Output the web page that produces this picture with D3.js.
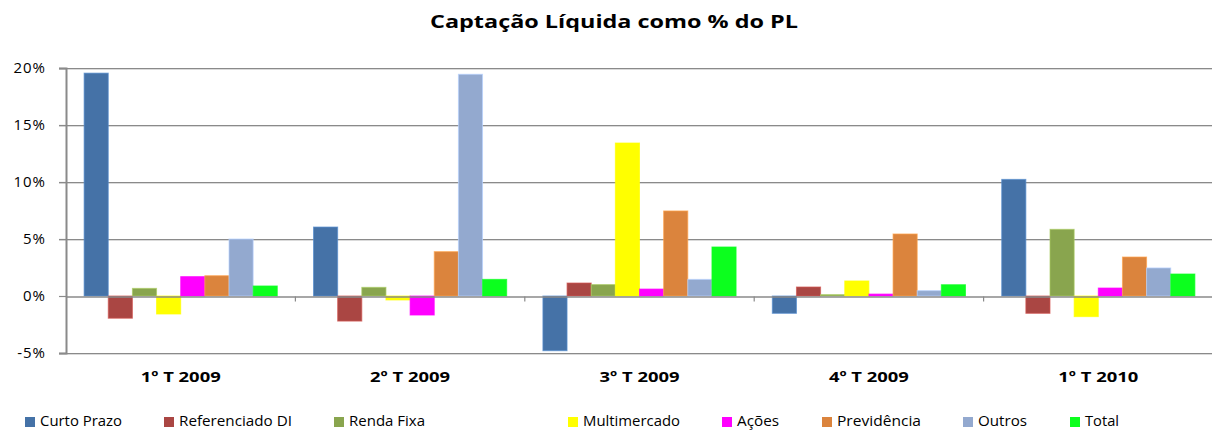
<!DOCTYPE html>
<html>
<head>
<meta charset="utf-8">
<script src="https://cdn.jsdelivr.net/npm/d3@7"></script>
<style>
  html, body { margin: 0; padding: 0; background: #fff; }
  svg { display: block; }
  text { font-family: "Open Sans", "DejaVu Sans", sans-serif; fill: #000; }
</style>
</head>
<body>
<svg id="chart" width="1212" height="430"></svg>
<script>
// ---- data ----
const title = "Captação Líquida como % do PL";
const categories = ["1º T 2009", "2º T 2009", "3º T 2009", "4º T 2009", "1º T 2010"];
const seriesNames = ["Curto Prazo", "Referenciado DI", "Renda Fixa", "Multimercado", "Ações", "Previdência", "Outros", "Total"];
const curtoPrazo     = [19.55, 6.05, -4.8, -1.52, 10.23];
const referenciadoDI = [-1.95, -2.2, 1.14, 0.79, -1.52];
const rendaFixa      = [0.67, 0.76, 1.0, 0.12, 5.85];
const multimercado   = [-1.58, -0.35, 13.42, 1.32, -1.81];
const acoes          = [1.7, -1.67, 0.61, 0.17, 0.7];
const previdencia    = [1.78, 3.89, 7.46, 5.44, 3.42];
const outros         = [5.0, 19.45, 1.46, 0.47, 2.46];
const total          = [0.88, 1.46, 4.3, 0.99, 1.93];
const yTicks = [-5, 0, 5, 10, 15, 20];
const seriesColors = ["#4572A7", "#AA4643", "#89A54E", "#FFFF00", "#FF00FF", "#DB843D", "#93A9CF", "#0CFF1E"];

const seriesValues = [curtoPrazo, referenciadoDI, rendaFixa, multimercado, acoes, previdencia, outros, total];

// ---- layout ----
const svg = d3.select("#chart");
const plot = { left: 66, right: 1213, top: 68, bottom: 353 };

const x0 = d3.scaleBand().domain(categories).range([plot.left, plot.right]).paddingInner(0).paddingOuter(0);
const y = d3.scaleLinear().domain([-5, 20]).range([plot.bottom, plot.top]);

// Excel gap width 150%: bar width = band / (8 + 1.5)
const barW = x0.bandwidth() / 9.5;
const groupOffset = barW * 0.75;

// gridlines (with light shadow)
const grid = svg.append("g");
yTicks.filter(t => t !== 0).forEach(t => {
  const yy = Math.round(y(t)) + 0.5;
  grid.append("line").attr("x1", plot.left - 7).attr("x2", plot.right).attr("y1", yy + 1).attr("y2", yy + 1)
    .attr("stroke", "#dadada").attr("stroke-width", 1);
  grid.append("line").attr("x1", plot.left - 7).attr("x2", plot.right).attr("y1", yy).attr("y2", yy)
    .attr("stroke", "#8a8a8a").attr("stroke-width", 1.2);
});

// y axis
const yAxis = d3.axisLeft(y).tickValues(yTicks).tickSize(7).tickFormat(d => d + "%");
const gy = svg.append("g").attr("transform", `translate(${plot.left},0)`).call(yAxis);
gy.select(".domain").attr("stroke", "#8a8a8a").attr("stroke-width", 2);
gy.selectAll(".tick line").attr("stroke", "#8a8a8a").attr("stroke-width", 1.2);
gy.selectAll(".tick text").attr("x", -20).attr("font-size", 15).attr("letter-spacing", 1)
  .attr("font-family", "'Open Sans', sans-serif").attr("fill", "#000");

// bars
const bars = svg.append("g");
categories.forEach((c, ci) => {
  seriesValues.forEach((vals, si) => {
    const v = vals[ci];
    const xx = x0(c) + groupOffset + si * barW;
    const y0 = y(0), yv = y(v);
    bars.append("rect")
      .attr("x", xx).attr("width", barW)
      .attr("y", Math.min(y0, yv)).attr("height", Math.abs(yv - y0))
      .attr("fill", seriesColors[si])
      .attr("stroke", d3.color(seriesColors[si]).brighter(0.6).copy({opacity: 0.7}))
      .attr("stroke-width", 1);
  });
});

// zero axis line with category ticks
const zx = svg.append("g").attr("transform", `translate(0,${Math.round(y(0)) + 0.5})`)
  .call(d3.axisBottom(x0).tickSize(0).tickFormat(""));
zx.select(".domain").attr("stroke", "#8a8a8a").attr("stroke-width", 1.4);
const bounds = categories.slice(1).map(c => x0(c));
zx.selectAll(".sep").data(bounds).enter().append("line")
  .attr("x1", d => d).attr("x2", d => d).attr("y1", 0).attr("y2", 5)
  .attr("stroke", "#8a8a8a").attr("stroke-width", 1.2);

// category labels
svg.append("g").selectAll("text").data(categories).enter().append("text")
  .attr("x", d => x0(d) + x0.bandwidth() / 2).attr("y", 382)
  .attr("text-anchor", "middle").attr("font-weight", "bold").attr("font-size", 15)
  .attr("textLength", 80).attr("lengthAdjust", "spacingAndGlyphs")
  .text(d => d);

// title
svg.append("text").attr("x", 614).attr("y", 28).attr("text-anchor", "middle")
  .attr("font-weight", "bold").attr("font-size", 17)
  .attr("textLength", 368).attr("lengthAdjust", "spacingAndGlyphs")
  .text(title);

// legend
const legendX = [25, 164, 334, 568, 722, 822, 963, 1070];
const legendW = [82, 113, 76, 97, 42, 84, 49, 34];
const lg = svg.append("g");
seriesNames.forEach((n, i) => {
  lg.append("rect").attr("x", legendX[i]).attr("y", 417).attr("width", 10).attr("height", 10)
    .attr("fill", seriesColors[i]);
  lg.append("text").attr("x", legendX[i] + 15).attr("y", 426).attr("font-size", 14)
    .attr("textLength", legendW[i]).attr("lengthAdjust", "spacingAndGlyphs")
    .text(n);
});
</script>
</body>
</html>
